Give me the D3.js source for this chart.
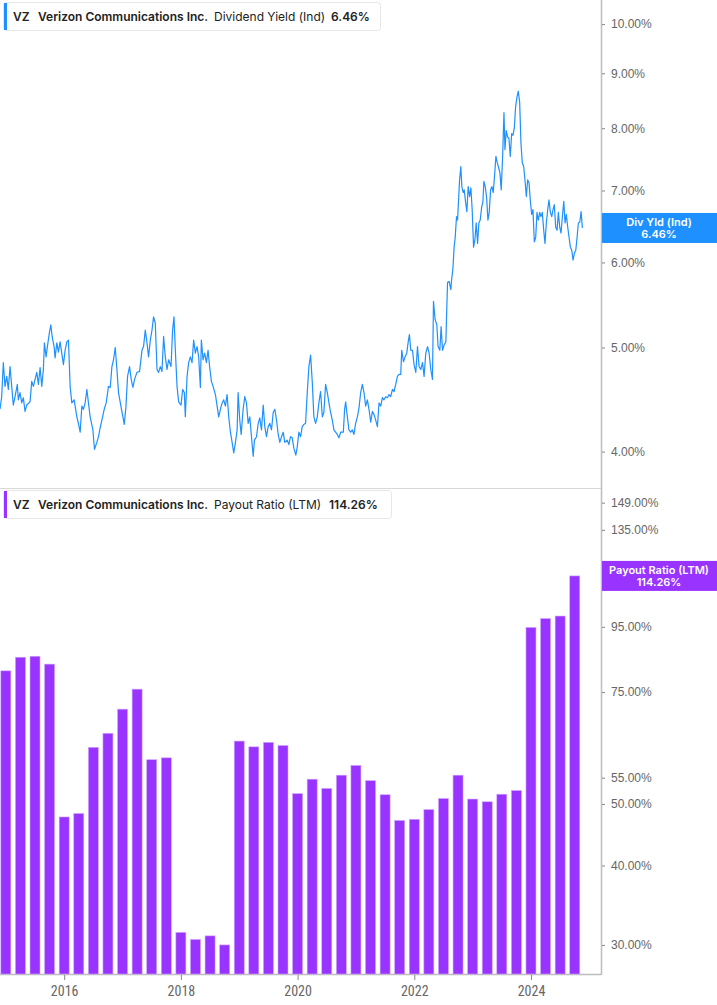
<!DOCTYPE html>
<html>
<head>
<meta charset="utf-8">
<script src="https://cdn.jsdelivr.net/npm/d3@7"></script>
<style>
  body { margin: 0; background: #fff; }
  svg { display: block; font-family: Inter, "Noto Sans", sans-serif; }
  .tick text { fill: #666; }
</style>
</head>
<body>
<svg id="chart" width="717" height="1005"></svg>
<script>
// Dividend yield (Ind), % — decimal year / value pairs
const yieldDates = [
  2014.900, 2014.929, 2014.957, 2014.986, 2015.015, 2015.043, 2015.072, 2015.101, 2015.128, 2015.158,
  2015.197, 2015.214, 2015.243, 2015.273, 2015.300, 2015.329, 2015.358, 2015.415, 2015.444, 2015.472,
  2015.501, 2015.530, 2015.558, 2015.587, 2015.616, 2015.643, 2015.661, 2015.690, 2015.712, 2015.746,
  2015.771, 2015.793, 2015.827, 2015.844, 2015.874, 2015.901, 2015.930, 2015.959, 2015.987, 2016.016,
  2016.045, 2016.073, 2016.102, 2016.131, 2016.171, 2016.217, 2016.244, 2016.274, 2016.303, 2016.330,
  2016.359, 2016.389, 2016.416, 2016.445, 2016.492, 2016.519, 2016.560, 2016.588, 2016.617, 2016.646,
  2016.686, 2016.720, 2016.759, 2016.789, 2016.818, 2016.845, 2016.875, 2016.904, 2016.931, 2016.972,
  2017.007, 2017.029, 2017.058, 2017.086, 2017.120, 2017.149, 2017.178, 2017.206, 2017.247, 2017.292,
  2017.333, 2017.360, 2017.390, 2017.419, 2017.446, 2017.476, 2017.505, 2017.532, 2017.561, 2017.591,
  2017.618, 2017.647, 2017.676, 2017.704, 2017.733, 2017.762, 2017.790, 2017.831, 2017.858, 2017.882,
  2017.905, 2017.934, 2017.962, 2018.003, 2018.030, 2018.059, 2018.076, 2018.106, 2018.133, 2018.162,
  2018.191, 2018.219, 2018.248, 2018.277, 2018.305, 2018.334, 2018.351, 2018.380, 2018.408, 2018.437,
  2018.466, 2018.494, 2018.523, 2018.552, 2018.592, 2018.621, 2018.648, 2018.677, 2018.707, 2018.734,
  2018.763, 2018.792, 2018.820, 2018.849, 2018.878, 2018.906, 2018.935, 2018.964, 2018.981, 2019.009,
  2019.033, 2019.067, 2019.095, 2019.124, 2019.153, 2019.181, 2019.210, 2019.239, 2019.261, 2019.296,
  2019.325, 2019.352, 2019.381, 2019.411, 2019.438, 2019.467, 2019.496, 2019.524, 2019.553, 2019.582,
  2019.610, 2019.639, 2019.668, 2019.696, 2019.725, 2019.754, 2019.781, 2019.823, 2019.850, 2019.879,
  2019.908, 2019.936, 2019.970, 2019.994, 2020.022, 2020.051, 2020.080, 2020.108, 2020.137, 2020.166,
  2020.194, 2020.223, 2020.252, 2020.279, 2020.309, 2020.338, 2020.365, 2020.394, 2020.424, 2020.451,
  2020.480, 2020.510, 2020.537, 2020.566, 2020.595, 2020.623, 2020.681, 2020.709, 2020.738, 2020.784,
  2020.806, 2020.824, 2020.853, 2020.880, 2020.910, 2020.939, 2020.966, 2020.995, 2021.025, 2021.052,
  2021.081, 2021.110, 2021.138, 2021.167, 2021.196, 2021.224, 2021.253, 2021.282, 2021.310, 2021.339,
  2021.368, 2021.396, 2021.425, 2021.454, 2021.481, 2021.510, 2021.540, 2021.567, 2021.596, 2021.626,
  2021.653, 2021.682, 2021.711, 2021.739, 2021.768, 2021.785, 2021.815, 2021.842, 2021.871, 2021.900,
  2021.917, 2021.940, 2021.969, 2021.996, 2022.026, 2022.055, 2022.082, 2022.111, 2022.141, 2022.168,
  2022.197, 2022.227, 2022.254, 2022.283, 2022.312, 2022.329, 2022.357, 2022.386, 2022.408, 2022.438,
  2022.460, 2022.484, 2022.512, 2022.541, 2022.570, 2022.597, 2022.627, 2022.639, 2022.661, 2022.683,
  2022.701, 2022.724, 2022.742, 2022.759, 2022.776, 2022.798, 2022.815, 2022.838, 2022.855, 2022.879,
  2022.901, 2022.924, 2022.948, 2022.970, 2022.992, 2023.016, 2023.039, 2023.061, 2023.085, 2023.107,
  2023.130, 2023.154, 2023.176, 2023.193, 2023.216, 2023.240, 2023.262, 2023.284, 2023.308, 2023.331,
  2023.353, 2023.377, 2023.399, 2023.422, 2023.446, 2023.468, 2023.490, 2023.514, 2023.537, 2023.554,
  2023.576, 2023.600, 2023.622, 2023.645, 2023.669, 2023.691, 2023.714, 2023.737, 2023.760, 2023.782,
  2023.806, 2023.828, 2023.851, 2023.875, 2023.897, 2023.920, 2023.943, 2023.966, 2023.988, 2024.012,
  2024.034, 2024.057, 2024.081, 2024.103, 2024.126, 2024.150, 2024.172, 2024.194, 2024.218, 2024.240,
  2024.263, 2024.287, 2024.309, 2024.332, 2024.356, 2024.378, 2024.400, 2024.424, 2024.447, 2024.469,
  2024.493, 2024.515, 2024.538, 2024.562, 2024.584, 2024.606, 2024.630, 2024.653, 2024.675, 2024.699,
  2024.721, 2024.744, 2024.768, 2024.790, 2024.812, 2024.836, 2024.859, 2024.881
];
const yieldValues = [
  4.38, 4.50, 4.84, 4.60, 4.70, 4.57, 4.80, 4.60, 4.42, 4.50,
  4.62, 4.47, 4.54, 4.44, 4.49, 4.36, 4.42, 4.45, 4.65, 4.60,
  4.67, 4.74, 4.62, 4.79, 4.60, 4.77, 5.05, 4.90, 5.01, 5.16,
  5.25, 5.12, 5.01, 4.89, 5.05, 4.95, 5.06, 4.94, 4.82, 4.97,
  5.06, 5.08, 4.60, 4.44, 4.47, 4.31, 4.25, 4.17, 4.41, 4.38,
  4.44, 4.57, 4.44, 4.31, 4.19, 4.02, 4.08, 4.13, 4.21, 4.28,
  4.38, 4.44, 4.60, 4.59, 4.80, 4.87, 5.00, 4.77, 4.54, 4.41,
  4.31, 4.24, 4.40, 4.70, 4.80, 4.67, 4.59, 4.67, 4.74, 4.75,
  4.97, 5.01, 5.19, 5.05, 4.90, 5.08, 5.19, 5.34, 5.27, 4.77,
  4.74, 4.80, 4.75, 5.12, 4.90, 4.77, 4.87, 4.80, 5.19, 5.34,
  4.97, 4.60, 4.45, 4.42, 4.57, 4.54, 4.31, 4.70, 4.84, 4.90,
  4.84, 5.08, 4.94, 5.01, 4.90, 4.59, 5.08, 4.87, 4.94, 4.84,
  4.97, 4.79, 4.65, 4.60, 4.52, 4.41, 4.31, 4.38, 4.44, 4.47,
  4.41, 4.52, 4.31, 4.17, 4.08, 3.99, 4.08, 4.19, 4.54, 4.28,
  4.15, 4.38, 4.50, 4.44, 4.25, 4.31, 4.13, 3.96, 4.10, 4.13,
  4.25, 4.30, 4.19, 4.42, 4.22, 4.13, 4.22, 4.25, 4.19, 4.35,
  4.38, 4.28, 4.15, 4.08, 4.13, 4.17, 4.08, 4.10, 4.06, 4.13,
  4.12, 4.03, 3.97, 4.04, 4.17, 4.13, 4.22, 4.24, 4.25, 4.54,
  4.80, 4.92, 4.64, 4.31, 4.25, 4.31, 4.44, 4.55, 4.31, 4.35,
  4.62, 4.54, 4.44, 4.35, 4.28, 4.19, 4.15, 4.12, 4.17, 4.17,
  4.38, 4.45, 4.31, 4.19, 4.17, 4.19, 4.15, 4.25, 4.31, 4.39,
  4.54, 4.62, 4.54, 4.41, 4.47, 4.38, 4.26, 4.36, 4.33, 4.28,
  4.22, 4.44, 4.41, 4.49, 4.47, 4.50, 4.49, 4.52, 4.50, 4.57,
  4.55, 4.62, 4.70, 4.72, 4.72, 4.97, 4.85, 4.90, 4.94, 5.08,
  5.14, 4.97, 4.97, 4.82, 4.74, 5.01, 4.80, 4.77, 4.84, 4.70,
  4.94, 5.01, 4.94, 4.77, 4.67, 5.52, 5.31, 5.25, 5.01, 4.97,
  5.23, 4.97, 5.03, 5.06, 5.75, 5.76, 5.66, 5.78, 5.91, 6.20,
  6.33, 6.62, 6.57, 6.86, 7.16, 7.37, 7.06, 6.97, 7.01, 6.83,
  6.69, 7.06, 6.91, 7.04, 6.72, 6.20, 6.30, 6.53, 6.25, 6.53,
  6.57, 6.75, 6.83, 7.14, 7.06, 6.89, 6.57, 6.68, 7.01, 7.06,
  6.97, 7.24, 7.53, 7.43, 7.35, 7.27, 7.01, 7.53, 8.27, 7.64,
  7.96, 7.85, 7.83, 7.53, 7.91, 7.88, 8.00, 8.38, 8.55, 8.66,
  8.46, 7.75, 7.43, 7.37, 7.16, 6.91, 7.16, 7.12, 6.86, 6.65,
  6.72, 6.27, 6.33, 6.68, 6.57, 6.68, 6.62, 6.68, 6.43, 6.25,
  6.53, 6.72, 6.86, 6.68, 6.62, 6.72, 6.79, 6.47, 6.43, 6.68,
  6.47, 6.39, 6.62, 6.84, 6.53, 6.65, 6.47, 6.33, 6.20, 6.16,
  6.03, 6.12, 6.16, 6.33, 6.53, 6.54, 6.69, 6.46
];

// Payout ratio (LTM), % — one bar per quarter
const payoutDates = [
  2015.00, 2015.25, 2015.50, 2015.75, 2016.00, 2016.25, 2016.50, 2016.75,
  2017.00, 2017.25, 2017.50, 2017.75, 2018.00, 2018.25, 2018.50, 2018.75,
  2019.00, 2019.25, 2019.50, 2019.75, 2020.00, 2020.25, 2020.50, 2020.75,
  2021.00, 2021.25, 2021.50, 2021.75, 2022.00, 2022.25, 2022.50, 2022.75,
  2023.00, 2023.25, 2023.50, 2023.75, 2024.00, 2024.25, 2024.50, 2024.75
];
const payoutValues = [
  81.0, 85.1, 85.4, 83.0, 47.7, 48.3, 61.4, 64.6,
  70.5, 75.8, 58.7, 59.1, 31.4, 30.6, 31.0, 30.0,
  62.8, 61.5, 62.5, 61.8, 51.9, 54.7, 52.9, 55.5,
  57.5, 54.4, 51.7, 47.1, 47.3, 49.0, 51.0, 55.5,
  50.9, 50.4, 51.8, 52.5, 94.8, 97.9, 98.8, 114.26
];

const xTickYears = [2016, 2018, 2020, 2022, 2024];
const yieldTicks = [4, 5, 6, 7, 8, 9, 10];
const payoutTicks = [30, 40, 50, 55, 75, 95, 135, 149];

const blue = "#1e90ff", purple = "#9933ff";
const svg = d3.select("#chart");
const plotRight = 601, topBottom = 488, botTop = 490, botBottom = 974;

//Scales
let x = d3.scaleLinear().domain([2014.9, 2025.2]).range([0, plotRight]);
let yTop = d3.scaleLog().domain([3.70, 10.53]).range([topBottom, 0]);
let yBot = d3.scaleLog().domain([27.0, 156]).range([botBottom, botTop]);

//Frame lines
svg.append("line").attr("x1", 0).attr("x2", plotRight).attr("y1", topBottom + 0.5).attr("y2", topBottom + 0.5)
  .attr("stroke", "#d8d8d8");
svg.append("line").attr("x1", 0).attr("x2", plotRight).attr("y1", botBottom + 0.5).attr("y2", botBottom + 0.5)
  .attr("stroke", "#bdbdbd").attr("stroke-width", 1.5);
svg.append("line").attr("x1", plotRight + 0.5).attr("x2", plotRight + 0.5).attr("y1", 0).attr("y2", botBottom + 1)
  .attr("stroke", "#bdbdbd").attr("stroke-width", 1.5);

//Dividend yield line
let yieldData = yieldDates.map((d, i) => ({t: d, v: yieldValues[i]}));
svg.append("path").datum(yieldData)
  .attr("fill", "none").attr("stroke", blue).attr("stroke-width", 1.2).attr("stroke-linejoin", "round")
  .attr("d", d3.line().x(d => x(d.t)).y(d => yTop(d.v)));

//Payout bars
let payoutData = payoutDates.map((d, i) => ({t: d, v: payoutValues[i]}));
svg.selectAll("rect.bar").data(payoutData).enter().append("rect")
  .attr("class", "bar")
  .attr("x", d => x(d.t) - 5).attr("width", 10)
  .attr("y", d => yBot(d.v)).attr("height", d => botBottom - yBot(d.v))
  .attr("fill", purple).attr("stroke", "#cfa6ff").attr("stroke-width", 0.6);

//Axes
let axTop = svg.append("g").attr("transform", "translate(" + (plotRight + 1) + ",0)")
  .call(d3.axisRight(yTop).tickValues(yieldTicks).tickSize(3).tickPadding(6).tickFormat(d => d.toFixed(2) + "%"));
let axBot = svg.append("g").attr("transform", "translate(" + (plotRight + 1) + ",0)")
  .call(d3.axisRight(yBot).tickValues(payoutTicks).tickSize(3).tickPadding(6).tickFormat(d => d.toFixed(2) + "%"));
let axX = svg.append("g").attr("transform", "translate(0," + (botBottom + 1) + ")")
  .call(d3.axisBottom(x).tickValues(xTickYears).tickSize(5).tickPadding(6).tickFormat(d3.format("d")));
[axTop, axBot, axX].forEach(g => {
  g.select(".domain").remove();
  g.selectAll(".tick line").attr("stroke", "#888");
});
axTop.selectAll("text").attr("font-size", 12);
axBot.selectAll("text").attr("font-size", 12);
axX.selectAll("text").attr("font-size", 14).attr("font-family", "'Liberation Sans Narrow', 'Roboto Condensed', sans-serif");

//Value tags on the right axis
function valueTag(yc, color, label, value) {
  svg.append("rect").attr("x", plotRight + 1).attr("y", yc - 15).attr("width", 717 - plotRight).attr("height", 30).attr("fill", color);
  svg.append("text").text(label).attr("x", 659).attr("y", yc - 2).attr("text-anchor", "middle")
    .attr("font-size", 11).attr("font-weight", 600).attr("fill", "#fff");
  svg.append("text").text(value).attr("x", 659).attr("y", yc + 10).attr("text-anchor", "middle")
    .attr("font-size", 11).attr("font-weight", 600).attr("fill", "#fff");
}
valueTag(yTop(6.46), blue, "Div Yld (Ind)", "6.46%");
valueTag(yBot(114.26), purple, "Payout Ratio (LTM)", "114.26%");

//Legends
function legend(y0, w, color, metric, value, valueX) {
  svg.append("rect").attr("x", 3.5).attr("y", y0 + 0.5).attr("width", w).attr("height", 28).attr("rx", 3)
    .attr("fill", "#fff").attr("stroke", "#e6e6e6");
  svg.append("rect").attr("x", 4).attr("y", y0 + 1).attr("width", 3).attr("height", 27).attr("fill", color);
  let ty = y0 + 19;
  svg.append("text").text("VZ").attr("x", 13).attr("y", ty).attr("font-size", 12).attr("font-weight", 600).attr("fill", "#222");
  svg.append("text").text("Verizon Communications Inc.").attr("x", 38).attr("y", ty).attr("font-size", 12).attr("font-weight", 600).attr("fill", "#222");
  svg.append("text").text(metric).attr("x", 214).attr("y", ty).attr("font-size", 12).attr("fill", "#222");
  svg.append("text").text(value).attr("x", valueX).attr("y", ty).attr("font-size", 12).attr("font-weight", 600).attr("fill", "#222");
}
legend(2, 377, blue, "Dividend Yield (Ind)", "6.46%", 331);
legend(490, 388, purple, "Payout Ratio (LTM)", "114.26%", 329);
</script>
</body>
</html>
